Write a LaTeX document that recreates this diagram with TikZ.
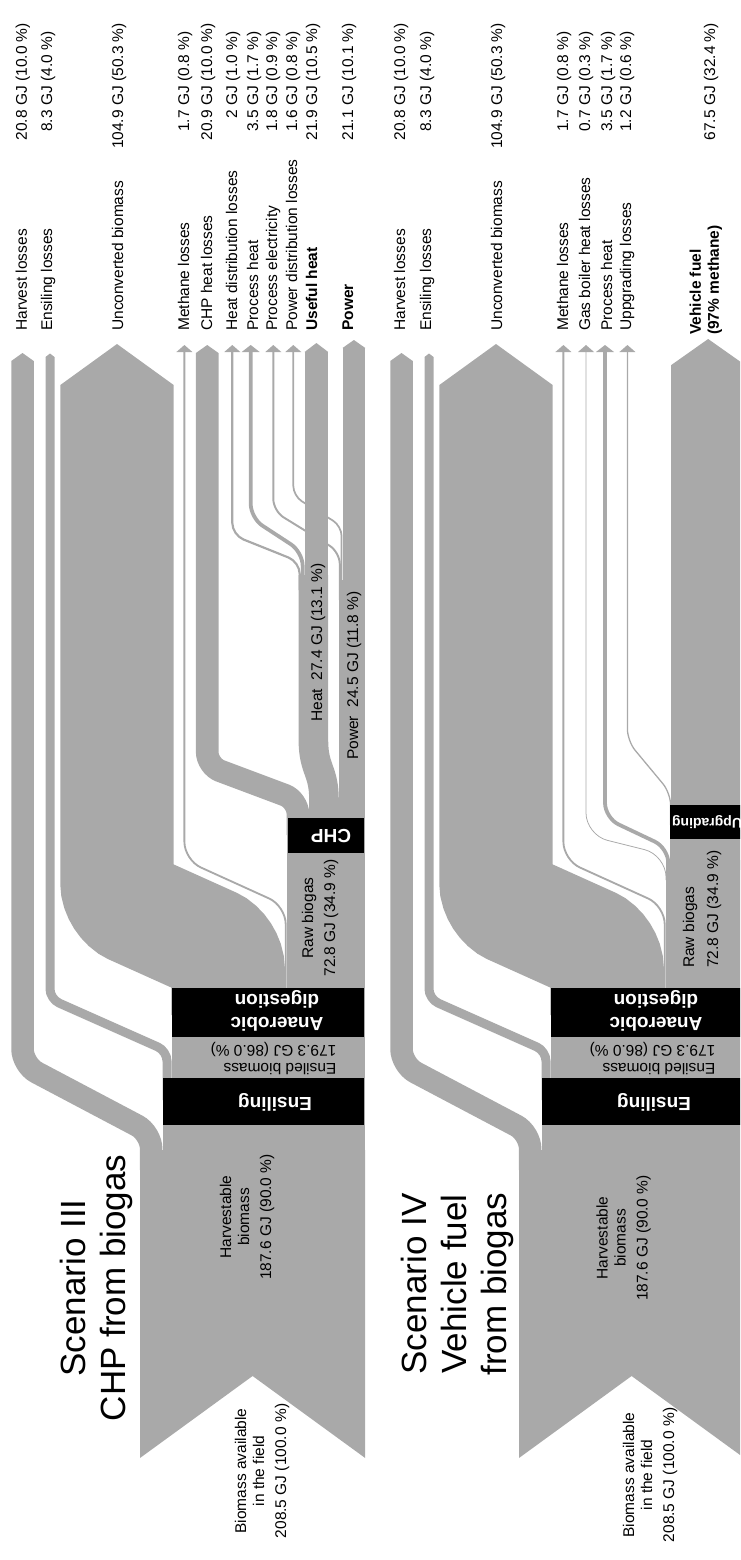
\documentclass[tikz,border=0pt]{standalone}
\usepackage{fontspec}
\setmainfont{Liberation Sans}
\definecolor{sankeygray}{RGB}{169,169,169}
\tikzset{
  flow/.style={draw=sankeygray, line width=#1},
  outlabel/.style={rotate=90, anchor=base west},
  outbold/.style={rotate=90, anchor=base west, font=\fontsize{15.5}{18}\selectfont\bfseries},
  midlabel/.style={rotate=90, align=center},
  titlelabel/.style={rotate=90, align=center, font=\fontsize{35}{40}\selectfont},
  flipped/.style={rotate=180, align=left},
  boxlabel/.style={rotate=180, align=center, text=white, font=\fontsize{19}{23}\selectfont\bfseries},
}
\begin{document}
\begin{tikzpicture}[x=1pt,y=1pt,yscale=-1,xscale=1,
  every node/.style={inner sep=0pt, font=\fontsize{15.5}{18}\selectfont}]
\useasboundingbox (0,0) rectangle (740,1560);
\clip (0,0) rectangle (740,1560);

%%%%%%%%%%%%%%%%%%%%%%%%%%%%%%%%%%%%%%%% Scenario III
% field biomass, harvestable, ensiled
\fill[sankeygray] (140,1458) -- (252.6,1376) -- (365.2,1458) -- (365.2,1150) -- (140,1150) -- cycle;
\fill[sankeygray] (162.5,1150) rectangle (365.2,1100);
\fill[sankeygray] (171.5,1100) rectangle (365.2,1015);

% harvest losses
\draw[flow=22.5pt, rounded corners=16pt] (151.2,1170) -- (151.2,1133) -- (22.5,1065) -- (22.5,361);
\fill[sankeygray] (11.25,361) -- (22.5,353) -- (33.75,361) -- cycle;
% ensiling losses
\draw[flow=9pt, rounded corners=10pt] (167,1100) -- (167,1051) -- (50,999) -- (50,357);
\fill[sankeygray] (45.5,357) -- (50,353.5) -- (54.5,357) -- cycle;
% unconverted biomass
\draw[flow=113.3pt, rounded corners=18pt] (228.1,1015) -- (228.1,951) -- (117,901) -- (117,385);
\fill[sankeygray] (60.35,385) -- (117,344) -- (173.65,385) -- cycle;
% methane losses
\draw[flow=1.84pt, rounded corners=18pt] (285.7,1015) -- (285.7,906) -- (184.4,860) -- (184.4,352);
\fill[sankeygray] (176.4,352) -- (184.4,345) -- (192.4,352) -- cycle;
% raw biogas
\fill[sankeygray] (286.6,1015) rectangle (365.2,835);
% CHP heat losses
\draw[flow=22.6pt, rounded corners=14pt] (297.9,835) -- (297.9,800) -- (207.2,766) -- (207.2,353);
\fill[sankeygray] (195.9,353) -- (207.2,345) -- (218.5,353) -- cycle;
% power
\draw[flow=26.5pt] (352,835) -- (352,580);
\draw[flow=1.94pt, rounded corners=12pt] (339.8,600) -- (339.8,552) -- (273.3,511) -- (273.3,352);
\fill[sankeygray] (265.3,352) -- (273.3,345) -- (281.3,352) -- cycle;
\draw[flow=1.73pt, rounded corners=10pt] (341.6,600) -- (341.6,526) -- (293.3,496) -- (293.3,352);
\fill[sankeygray] (285.3,352) -- (293.3,345) -- (301.3,352) -- cycle;
% heat
\draw[flow=29.6pt] (324,835) -- (324,800) .. controls (324,770) and (313.4,770) .. (313.4,740) -- (313.4,575);
\draw[flow=2.16pt, rounded corners=12pt] (299.7,590) -- (299.7,562) -- (232.3,535) -- (232.3,352);
\fill[sankeygray] (224.3,352) -- (232.3,345) -- (240.3,352) -- cycle;
\draw[flow=3.78pt, rounded corners=14pt] (302.7,590) -- (302.7,552) -- (250.7,518) -- (250.7,352);
\fill[sankeygray] (241.7,352) -- (250.7,345) -- (259.7,352) -- cycle;
% useful heat
\draw[flow=23.6pt] (316.4,590) -- (316.4,352);
\fill[sankeygray] (304.6,352) -- (316.4,343) -- (328.2,352) -- cycle;
% power out
\draw[flow=22.8pt] (353.9,590) -- (353.9,348);
\fill[sankeygray] (342.5,348) -- (353.9,340) -- (365.3,348) -- cycle;

% process boxes
\fill[black] (163,1078) rectangle (363.5,1125);
\fill[black] (172,988) rectangle (363.5,1037);
\fill[black] (288,818) rectangle (363.5,853);
\node[boxlabel] (ensbox3) at (275,1102) {Ensiling};
\node[boxlabel] (adbox3) at (277,1011) {Anaerobic\\digestion};
\node[boxlabel] (chpbox3) at (331,836) {CHP};

% Text Node
\node[titlelabel] (title3) at (96,1288) {Scenario III\\CHP from biogas};
\node[midlabel] (field3) at (262,1471) {Biomass available\\in the field\\[4pt]208.5 GJ (100.0 \%)};
\node[midlabel] (harvb3) at (247,1217) {Harvestable\\biomass\\[4pt]187.6 GJ (90.0 \%)};
\node[flipped] (ensd3) at (273.5,1058) {Ensiled biomass\\179.3 GJ (86.0 \%)};
\node[midlabel] (raw3) at (320,918) {Raw biogas\\[4pt]72.8 GJ (34.9 \%)};
\node[outlabel] (heat3) at (322,722) {Heat\ \ 27.4 GJ (13.1 \%)};
\node[outlabel] (pow3) at (358,760) {Power\ \ 24.5 GJ (11.8 \%)};

\node[outlabel] (nharv3) at (27,331) {Harvest losses};
\node[outlabel] (nens3) at (52,331) {Ensiling losses};
\node[outlabel] (nunc3) at (123,331) {Unconverted biomass};
\node[outlabel] (nmeth3) at (189,331) {Methane losses};
\node[outlabel] (nchpl3) at (212,331) {CHP heat losses};
\node[outlabel] (nhdl3) at (237,331) {Heat distribution losses};
\node[outlabel] (nph3) at (258,331) {Process heat};
\node[outlabel] (npe3) at (277,331) {Process electricity};
\node[outlabel] (npdl3) at (297,331) {Power distribution losses};
\node[outbold] (nuh3) at (317,331) {Useful heat};
\node[outbold] (npow3) at (353,331) {Power};

\node[outlabel] (vharv3) at (27,106) {\llap{20.8 }GJ (10.0 \%)};
\node[outlabel] (vens3) at (52,106) {\llap{8.3 }GJ (4.0 \%)};
\node[outlabel] (vunc3) at (123,106) {\llap{104.9 }GJ (50.3 \%)};
\node[outlabel] (vmeth3) at (189,106) {\llap{1.7 }GJ (0.8 \%)};
\node[outlabel] (vchpl3) at (212,106) {\llap{20.9 }GJ (10.0 \%)};
\node[outlabel] (vhdl3) at (237,106) {\llap{2 }GJ (1.0 \%)};
\node[outlabel] (vph3) at (258,106) {\llap{3.5 }GJ (1.7 \%)};
\node[outlabel] (vpe3) at (277,106) {\llap{1.8 }GJ (0.9 \%)};
\node[outlabel] (vpdl3) at (297,106) {\llap{1.6 }GJ (0.8 \%)};
\node[outlabel] (vuh3) at (317,106) {\llap{21.9 }GJ (10.5 \%)};
\node[outlabel] (vpow3) at (353,106) {\llap{21.1 }GJ (10.1 \%)};

%%%%%%%%%%%%%%%%%%%%%%%%%%%%%%%%%%%%%%%% Scenario IV
\begin{scope}[xshift=379pt]
\fill[sankeygray] (140,1458) -- (252.6,1376) -- (365.2,1458) -- (365.2,1150) -- (140,1150) -- cycle;
\fill[sankeygray] (162.5,1150) rectangle (365.2,1100);
\fill[sankeygray] (171.5,1100) rectangle (365.2,1015);

% harvest losses
\draw[flow=22.5pt, rounded corners=16pt] (151.2,1170) -- (151.2,1133) -- (22.5,1065) -- (22.5,361);
\fill[sankeygray] (11.25,361) -- (22.5,353) -- (33.75,361) -- cycle;
% ensiling losses
\draw[flow=9pt, rounded corners=10pt] (167,1100) -- (167,1051) -- (50,999) -- (50,357);
\fill[sankeygray] (45.5,357) -- (50,353.5) -- (54.5,357) -- cycle;
% unconverted biomass
\draw[flow=113.3pt, rounded corners=18pt] (228.1,1015) -- (228.1,951) -- (117,901) -- (117,385);
\fill[sankeygray] (60.35,385) -- (117,344) -- (173.65,385) -- cycle;
% methane losses
\draw[flow=1.84pt, rounded corners=18pt] (285.7,1015) -- (285.7,906) -- (184.4,860) -- (184.4,352);
\fill[sankeygray] (176.4,352) -- (184.4,345) -- (192.4,352) -- cycle;
% raw biogas
\fill[sankeygray] (286.6,1015) rectangle (365.2,860);
% gas boiler heat losses
\draw[flow=0.76pt, rounded corners=22pt] (287,880) -- (287,855) -- (207,835) -- (207,352);
\fill[sankeygray] (199,352) -- (207,345) -- (215,352) -- cycle;
% process heat
\draw[flow=3.78pt, rounded corners=15pt] (289.3,880) -- (289.3,848) -- (226,818) -- (226,352);
\fill[sankeygray] (217,352) -- (226,345) -- (235,352) -- cycle;
% gas to upgrading
\fill[sankeygray] (291.2,870) rectangle (365.2,830);
% upgrading losses
\draw[flow=1.3pt, rounded corners=12pt] (291.6,825) -- (291.6,793) -- (248.4,741) -- (248.4,352);
\fill[sankeygray] (240.4,352) -- (248.4,345) -- (256.4,352) -- cycle;
% vehicle fuel
\fill[sankeygray] (292.3,825) rectangle (366,365);
\fill[sankeygray] (292.3,365) -- (329.15,339) -- (366,365) -- cycle;

% process boxes
\fill[black] (163,1078) rectangle (363.5,1125);
\fill[black] (172,988) rectangle (363.5,1037);
\fill[black] (291,805) rectangle (372,839);
\node[boxlabel] (ensbox4) at (275,1102) {Ensiling};
\node[boxlabel] (adbox4) at (277,1011) {Anaerobic\\digestion};
\node[boxlabel, font=\fontsize{14}{17}\selectfont\bfseries] (upgbox4) at (328,822) {Upgrading};

% Text Node
\node[titlelabel] (title4) at (78,1284) {Scenario IV\\Vehicle fuel\\from biogas};
\node[midlabel] (field4) at (271,1475) {Biomass available\\in the field\\[4pt]208.5 GJ (100.0 \%)};
\node[midlabel] (harvb4) at (244.5,1238) {Harvestable\\biomass\\[4pt]187.6 GJ (90.0 \%)};
\node[flipped] (ensd4) at (273.5,1058) {Ensiled biomass\\179.3 GJ (86.0 \%)};
\node[midlabel, align=left, anchor=west] (raw4) at (323,968) {Raw biogas\\[6pt]72.8 GJ (34.9 \%)};

\node[outlabel] (nharv4) at (26,331) {Harvest losses};
\node[outlabel] (nens4) at (52,331) {Ensiling losses};
\node[outlabel] (nunc4) at (123,331) {Unconverted biomass};
\node[outlabel] (nmeth4) at (189,331) {Methane losses};
\node[outlabel] (ngas4) at (211,331) {Gas boiler heat losses};
\node[outlabel] (nph4) at (233,331) {Process heat};
\node[outlabel] (nupl4) at (252,331) {Uppgrading losses};
\node[outbold, align=left, anchor=south west] (nfuel4) at (343.3,335) {Vehicle fuel\\(97\% methane)};

\node[outlabel] (vharv4) at (26,106) {\llap{20.8 }GJ (10.0 \%)};
\node[outlabel] (vens4) at (52,106) {\llap{8.3 }GJ (4.0 \%)};
\node[outlabel] (vunc4) at (123,106) {\llap{104.9 }GJ (50.3 \%)};
\node[outlabel] (vmeth4) at (189,106) {\llap{1.7 }GJ (0.8 \%)};
\node[outlabel] (vgas4) at (211,106) {\llap{0.7 }GJ (0.3 \%)};
\node[outlabel] (vph4) at (233,106) {\llap{3.5 }GJ (1.7 \%)};
\node[outlabel] (vupl4) at (252,106) {\llap{1.2 }GJ (0.6 \%)};
\node[outlabel] (vfuel4) at (336,106) {\llap{67.5 }GJ (32.4 \%)};
\end{scope}

\end{tikzpicture}
\end{document}
